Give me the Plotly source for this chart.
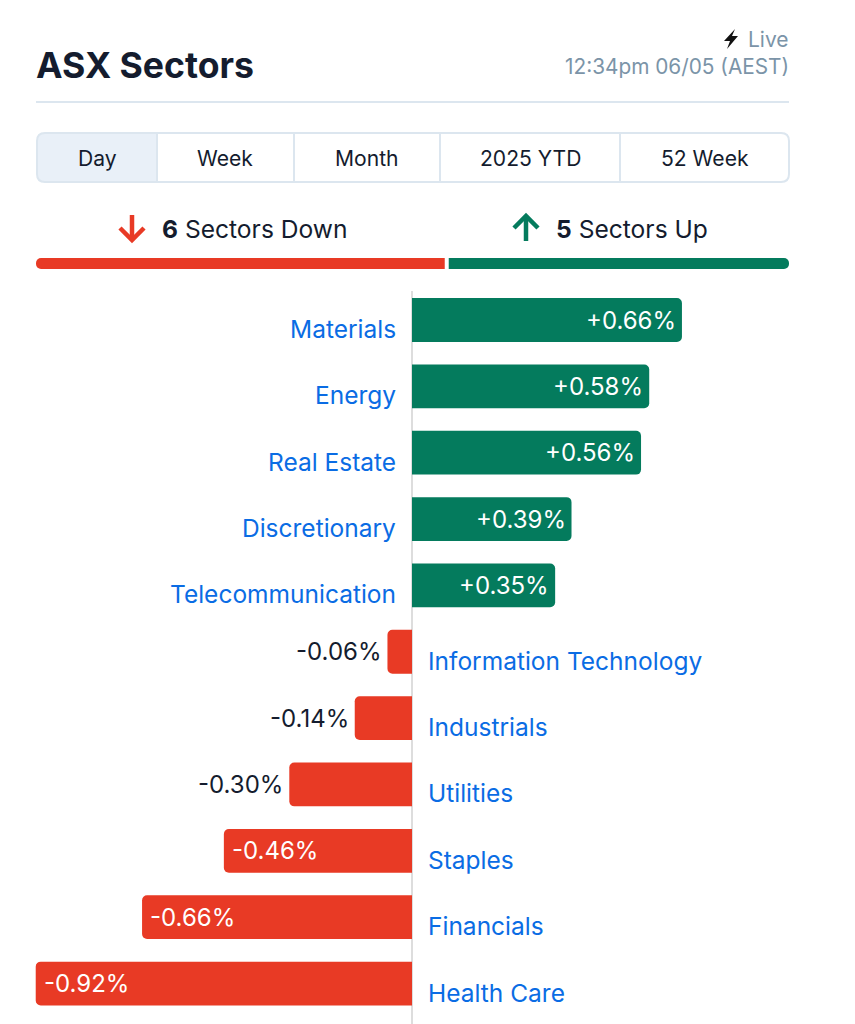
import plotly.graph_objects as go

# Chart data
sectors = ["Materials", "Energy", "Real Estate", "Discretionary", "Telecommunication",
           "Information Technology", "Industrials", "Utilities", "Staples", "Financials", "Health Care"]
changes = [0.66, 0.58, 0.56, 0.39, 0.35, -0.06, -0.14, -0.30, -0.46, -0.66, -0.92]
tabs = ["Day", "Week", "Month", "2025 YTD", "52 Week"]
sectors_down = 6
sectors_up = 5

W, H = 855, 1024
FONT = "Inter"
GREEN = "#047B5D"
RED = "#E83A25"
BLUE = "#0A6CE4"
NAVY = "#141C2E"
SLATE = "#7B94A8"
BORDER = "#DCE6EF"


def px(x):
    return x / W


def py(y):
    return 1 - y / H


def rounded(x0, y0, x1, y1, r_left=0, r_right=0):
    # svg path in paper coordinates, corners are given in pixels
    return (f"M {px(x0 + r_left)} {py(y0)} L {px(x1 - r_right)} {py(y0)} "
            f"Q {px(x1)} {py(y0)} {px(x1)} {py(y0 + r_right)} L {px(x1)} {py(y1 - r_right)} "
            f"Q {px(x1)} {py(y1)} {px(x1 - r_right)} {py(y1)} L {px(x0 + r_left)} {py(y1)} "
            f"Q {px(x0)} {py(y1)} {px(x0)} {py(y1 - r_left)} L {px(x0)} {py(y0 + r_left)} "
            f"Q {px(x0)} {py(y0)} {px(x0 + r_left)} {py(y0)} Z")


def poly(points):
    return "M " + " L ".join(f"{px(a)} {py(b)}" for a, b in points) + " Z"


def line_path(points):
    return "M " + " L ".join(f"{px(a)} {py(b)}" for a, b in points)


def label(x, y, text, size, color, anchor="center", weight=400):
    return dict(xref="paper", yref="paper", x=px(x), y=py(y), text=text, showarrow=False,
                xanchor=anchor, yanchor="middle", font=dict(family=FONT, size=size, color=color, weight=weight))


fig = go.Figure()

# Sector bars
fig.add_trace(go.Bar(
    x=changes, y=sectors, orientation="h", width=0.66, showlegend=False, hoverinfo="skip",
    marker=dict(color=[GREEN if v > 0 else RED for v in changes], line=dict(width=0)),
    xaxis="x", yaxis="y",
))

# Down / up split strip, both halves start from the middle so the outer ends get rounded
fig.add_trace(go.Bar(x=[-sectors_down], y=["split"], orientation="h", width=1, showlegend=False, hoverinfo="skip",
                     marker=dict(color=RED, line=dict(width=0)), xaxis="x2", yaxis="y2"))
fig.add_trace(go.Bar(x=[sectors_up], y=["split"], orientation="h", width=1, showlegend=False, hoverinfo="skip",
                     marker=dict(color=GREEN, line=dict(width=0)), xaxis="x2", yaxis="y2"))

annotations = [
    label(34, 65, "ASX Sectors", 35.6, NAVY, "left", 700),
    label(791, 39, "Live", 21, SLATE, "right"),
    label(791, 66, "12:34pm 06/05 (AEST)", 20.8, SLATE, "right"),
    label(160, 229, f"<b>{sectors_down}</b> Sectors Down", 24.6, NAVY, "left"),
    label(554, 229, f"<b>{sectors_up}</b> Sectors Up", 24.6, NAVY, "left"),
]

tab_centers = [97, 225, 367, 530, 705]
for name, cx in zip(tabs, tab_centers):
    annotations.append(label(cx, 158, name, 21.1, NAVY))

# Sector names and values
for name, v in zip(sectors, changes):
    up = v > 0
    annotations.append(dict(
        x=0, y=name, xref="x", yref="y", text=name, showarrow=False, yanchor="middle",
        xanchor="right" if up else "left", xshift=-14 if up else 14, yshift=-9,
        font=dict(family=FONT, size=24.5, color=BLUE),
    ))
    inside = abs(v) >= 0.35
    if up:
        anchor, shift = "right", -4
    elif inside:
        anchor, shift = "left", 6
    else:
        anchor, shift = "right", -4
    annotations.append(dict(
        x=v, y=name, xref="x", yref="y", text=f"{v:+.2f}%", showarrow=False, yanchor="middle",
        xanchor=anchor, xshift=shift, yshift=0,
        font=dict(family=FONT, size=24, color="white" if inside else NAVY),
    ))

shapes = [
    # header rule
    dict(type="line", xref="paper", yref="paper", x0=px(36), x1=px(789), y0=py(102), y1=py(102),
         line=dict(color=BORDER, width=2)),
    # tabs
    dict(type="path", xref="paper", yref="paper", path=rounded(37, 133, 157, 182, r_left=8),
         fillcolor="#E9F0F8", line=dict(width=0)),
    dict(type="path", xref="paper", yref="paper", path=rounded(37, 133, 789, 182, 8, 8),
         fillcolor="rgba(0,0,0,0)", line=dict(color=BORDER, width=2)),
    # bolt
    dict(type="path", xref="paper", yref="paper",
         path=poly([(735, 29), (724, 41), (730, 41), (727, 49), (738, 36), (732, 36)]),
         fillcolor="#111111", line=dict(width=0)),
    # red arrow
    dict(type="path", xref="paper", yref="paper", path=line_path([(132, 215), (132, 240)]),
         line=dict(color=RED, width=4.5)),
    dict(type="path", xref="paper", yref="paper", path=line_path([(120, 228), (132, 240), (144, 228)]),
         line=dict(color=RED, width=4.5)),
    # green arrow
    dict(type="path", xref="paper", yref="paper", path=line_path([(526, 241), (526, 216)]),
         line=dict(color=GREEN, width=4.5)),
    dict(type="path", xref="paper", yref="paper", path=line_path([(514, 228), (526, 216), (538, 228)]),
         line=dict(color=GREEN, width=4.5)),
    # gap between the two halves of the strip
    dict(type="line", xref="x2", yref="paper", x0=0, x1=0, y0=py(272), y1=py(255),
         line=dict(color="white", width=4)),
]
for sep in [157, 294, 440, 620]:
    shapes.append(dict(type="line", xref="paper", yref="paper", x0=px(sep), x1=px(sep), y0=py(133), y1=py(182),
                       line=dict(color=BORDER, width=2)))

hidden = dict(showgrid=False, showticklabels=False, ticks="", showline=False)

fig.update_layout(
    width=W, height=H, margin=dict(l=0, r=0, t=0, b=0), autosize=False,
    paper_bgcolor="white", plot_bgcolor="rgba(0,0,0,0)",
    barmode="relative", barcornerradius=5,
    xaxis=dict(domain=[0, 1], range=[-412 / 409, 443 / 409], anchor="y", zeroline=True,
               zerolinecolor="#DDDDDD", zerolinewidth=2, **hidden),
    yaxis=dict(domain=[0, py(291)], type="category", categoryorder="array", categoryarray=sectors,
               range=[10.61, -0.437], anchor="x", zeroline=False, **hidden),
    xaxis2=dict(domain=[px(36), px(789)], range=[-sectors_down, sectors_up], anchor="y2", zeroline=False, **hidden),
    yaxis2=dict(domain=[py(269), py(258)], type="category", range=[-0.5, 0.5], anchor="x2", zeroline=False, **hidden),
    annotations=annotations,
    shapes=shapes,
)

fig.write_html("out.html", config={"displayModeBar": False},
               post_script="document.body.style.margin='0';document.body.style.overflow='hidden';")
